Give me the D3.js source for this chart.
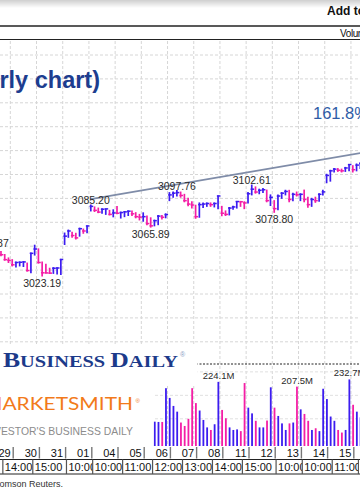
<!DOCTYPE html>
<html>
<head>
<meta charset="utf-8">
<script src="https://cdn.jsdelivr.net/npm/d3@7"></script>
<style>
html, body { margin: 0; padding: 0; background: #fff; overflow: hidden; }
svg { display: block; font-family: Arial, "Liberation Sans", sans-serif; }
</style>
</head>
<body>
<svg id="chart" width="360" height="504"></svg>
<script>
// S&P 500 hourly bars, Oct 29 - Nov 18, 7 bars a day
const days = ["29", "30", "31", "01", "04", "05", "06", "07", "08", "11", "12", "13", "14", "15", "18"];

const highs = [
    3045, 3047.87, 3047, 3046, 3044.5, 3042, 3039,
    3037.5, 3035.4, 3035.5, 3035.8, 3034.5, 3043.3, 3050.1,
    3046.9, 3035.5, 3033.5, 3030, 3030.5, 3030.5, 3037.9,
    3060.7, 3063.3, 3061.5, 3060.5, 3065, 3064.2, 3066.95,
    3085.2, 3083.5, 3082.5, 3082, 3081.5, 3080.5, 3081,
    3083.95, 3079, 3079.5, 3080, 3080, 3078.5, 3077,
    3078.34, 3075.5, 3074, 3072, 3076, 3076, 3077.5,
    3096, 3096.5, 3097.76, 3096.5, 3094.5, 3091, 3088,
    3085, 3087, 3087, 3087, 3087, 3087, 3093.09,
    3084, 3080, 3083, 3084, 3088.3, 3088.33, 3088,
    3096, 3102.61, 3101, 3099, 3099.5, 3098.2, 3094,
    3089, 3093.9, 3096, 3098.06, 3098, 3095.5, 3096.5,
    3095, 3098.2, 3092, 3091, 3092, 3095, 3098,
    3112, 3115.5, 3117, 3117, 3116.5, 3118, 3120.46,
    3119.5, 3121, 3122
];
const lows = [
    3035, 3042, 3043, 3042, 3041, 3037, 3035,
    3032, 3031, 3032, 3031.5, 3027.5, 3025.96, 3041.5,
    3034.5, 3023.19, 3025.8, 3025.5, 3025.5, 3025, 3024.5,
    3050.72, 3057, 3057, 3055.5, 3058, 3060.5, 3061,
    3080, 3079.5, 3078.5, 3078, 3077, 3076.5, 3074.87,
    3077.5, 3073.8, 3075, 3076, 3076, 3074, 3072.15,
    3071, 3068, 3065.89, 3067, 3068, 3073, 3074,
    3089, 3092, 3093, 3092, 3088, 3084.5, 3082.5,
    3073.58, 3074.5, 3083, 3084, 3084, 3083.5, 3082,
    3075.82, 3076, 3076.5, 3081.5, 3082.5, 3084, 3082,
    3087, 3094, 3095.5, 3095, 3096, 3088, 3084.73,
    3078.8, 3081, 3091, 3094, 3088, 3089, 3093,
    3089, 3088, 3083.26, 3084, 3087.5, 3088.5, 3094,
    3104.6, 3106, 3114, 3114.5, 3114, 3114.5, 3115,
    3114, 3115, 3117
];
const closes = [
    3044, 3046, 3045, 3044.5, 3041.8, 3037.5, 3036.89,
    3033, 3035, 3035.2, 3035.5, 3028, 3043, 3046.77,
    3035, 3026, 3025.9, 3025.7, 3030, 3030.2, 3037.56,
    3058, 3062.5, 3058.5, 3056.5, 3064.5, 3062.5, 3066.91,
    3084, 3080.5, 3079, 3081.5, 3081.8, 3077, 3078.27,
    3078, 3078.6, 3079.2, 3079.8, 3077.5, 3075, 3074.62,
    3075, 3069, 3067, 3071.5, 3075.5, 3074.5, 3076.78,
    3094, 3095.5, 3096, 3093.5, 3089, 3086, 3085.18,
    3075, 3085.5, 3086, 3086.5, 3085.5, 3086.5, 3093.08,
    3078, 3077, 3082.5, 3083.5, 3088.2, 3088, 3087.01,
    3095, 3099, 3096.5, 3098, 3098.5, 3089, 3091.84,
    3082, 3093, 3095.5, 3097, 3090, 3094.5, 3094.04,
    3094.5, 3090, 3085.5, 3090, 3089, 3094.5, 3096.63,
    3111, 3115, 3116.5, 3115.5, 3115, 3117.5, 3120.46,
    3116, 3120, 3121.5
];
// volume in millions
const volumes = [
    150, 95, 80, 70, 75, 90, 190,
    140, 100, 80, 75, 85, 150, 230,
    160, 130, 95, 80, 90, 110, 240,
    170, 120, 90, 75, 70, 85, 200,
    160, 115, 90, 70, 65, 80, 190,
    150, 110, 85, 70, 65, 80, 195,
    145, 110, 90, 85, 84, 84, 202,
    168, 140, 120, 82, 70, 95, 202,
    150, 124, 91, 65, 56, 76, 224.1,
    126, 97, 65, 56, 58, 52, 220,
    134, 114, 88, 65, 65, 89, 205,
    134, 105, 79, 56, 79, 82, 207.5,
    128, 112, 88, 56, 62, 52, 200,
    164, 103, 88, 56, 47, 56, 232.7,
    144, 120, 100
];

// marked highs / lows (bar index)
const priceMarks = [
    { i: 1, type: "high" }, { i: 15, type: "low" }, { i: 28, type: "high" },
    { i: 44, type: "low" }, { i: 51, type: "high" }, { i: 71, type: "high" },
    { i: 77, type: "low" }
];
const volumeMarks = [62, 83, 97];

// time row: bar index where a cell starts and its label
const timeIdx = [5, 13, 22, 29, 37, 45, 53, 61, 69, 78, 85, 93, 100];
const timeLbl = ["14:00", "15:00", "10:00", "10:00", "11:00", "12:00", "13:00", "14:00", "15:00", "10:00", "10:00", "11:00", "12:00"];

// trend line ends (bar index, price)
const trendIdx = [28, 101];
const trendPrice = [3090.4, 3131];

const upColor = "#3c1cf0";
const downColor = "#f41ea6";
const barW = 3.743;

const svg = d3.select("#chart");

const x = d3.scaleLinear().domain([0, 100]).range([-14, -14 + 100 * barW]);
const y = d3.scaleLinear().domain([3000, 3140]).range([302.6, 142.2]);
const yv = d3.scaleLinear().domain([0, 290]).range([446, 363]);

const colorOf = i => (i == 0 || closes[i] >= closes[i - 1]) ? upColor : downColor;

// top strip
const defs = svg.append("defs");
const grad = defs.append("linearGradient").attr("id", "shade").attr("x1", 0).attr("y1", 0).attr("x2", 0).attr("y2", 1);
grad.append("stop").attr("offset", "0%").attr("stop-color", "#cfcfcf");
grad.append("stop").attr("offset", "100%").attr("stop-color", "#ffffff");
svg.append("rect").attr("x", 0).attr("y", 0).attr("width", 360).attr("height", 8).attr("fill", "url(#shade)");

svg.append("text").attr("x", 327).attr("y", 15)
    .style("font-size", "12px").style("font-weight", "bold").attr("fill", "#111")
    .text("Add to");
svg.append("line").attr("x1", 0).attr("x2", 360).attr("y1", 26).attr("y2", 26)
    .attr("stroke", "#222").attr("stroke-width", 1.6);
svg.append("text").attr("x", 340).attr("y", 36.5)
    .style("font-size", "10px").attr("fill", "#111").style("letter-spacing", "-0.4px")
    .text("Volume");
svg.append("line").attr("x1", 0).attr("x2", 360).attr("y1", 39.5).attr("y2", 39.5)
    .attr("stroke", "#222").attr("stroke-width", 1.2);

// grid
const grid = svg.append("g");
const dayStarts = d3.range(1, days.length).map(k => k * 7);
grid.selectAll(".vgrid")
    .data(dayStarts)
    .enter()
    .append("line")
    .attr("class", "vgrid")
    .attr("x1", d => x(d) - barW / 2).attr("x2", d => x(d) - barW / 2)
    .attr("y1", 41).attr("y2", 446)
    .attr("stroke", "#d6d6d6").attr("stroke-dasharray", "3,2");
grid.selectAll(".hgrid")
    .data(d3.range(55, 350, 23.9))
    .enter()
    .append("line")
    .attr("class", "hgrid")
    .attr("x1", 0).attr("x2", 360)
    .attr("y1", d => d).attr("y2", d => d)
    .attr("stroke", "#d6d6d6").attr("stroke-dasharray", "3,2");
grid.selectAll(".vhgrid")
    .data([yv(95), yv(177), yv(259)])
    .enter()
    .append("line")
    .attr("class", "vhgrid")
    .attr("x1", 0).attr("x2", 360)
    .attr("y1", d => d).attr("y2", d => d)
    .attr("stroke", "#e0e0e0").attr("stroke-dasharray", "3,2");

// volume panel top
svg.append("line").attr("x1", 0).attr("x2", 360).attr("y1", 364).attr("y2", 364)
    .attr("stroke", "#222").attr("stroke-dasharray", "2,1.5").attr("stroke-width", 1);

// title
svg.append("text").attr("x", 100).attr("y", 87.5).attr("text-anchor", "end")
    .style("font-size", "23.5px").style("font-weight", "bold").attr("fill", "#1d3d8f")
    .text("S&P 500 (Hourly chart)");

// trend line
svg.append("line")
    .attr("x1", x(trendIdx[0])).attr("y1", y(trendPrice[0]))
    .attr("x2", x(trendIdx[1])).attr("y2", y(trendPrice[1]))
    .attr("stroke", "#7f8ca8").attr("stroke-width", 1.8);

svg.append("text").attr("x", 313).attr("y", 119)
    .style("font-size", "16.5px").attr("fill", "#2f5ca6")
    .text("161.8%");

// price bars
const bars = svg.append("g");
const idx = d3.range(highs.length);
bars.selectAll(".hl")
    .data(idx)
    .enter()
    .append("line")
    .attr("class", "hl")
    .attr("x1", d => x(d)).attr("x2", d => x(d))
    .attr("y1", d => y(highs[d]) - 0.5).attr("y2", d => y(lows[d]) + 0.5)
    .attr("stroke", colorOf).attr("stroke-width", 1.7);
bars.selectAll(".cl")
    .data(idx)
    .enter()
    .append("line")
    .attr("class", "cl")
    .attr("x1", d => x(d) - 1.2).attr("x2", d => x(d) + 2.4)
    .attr("y1", d => y(closes[d])).attr("y2", d => y(closes[d]))
    .attr("stroke", colorOf).attr("stroke-width", 1.5);

const fmt = d3.format(".2f");
svg.selectAll(".pmark")
    .data(priceMarks)
    .enter()
    .append("text")
    .attr("class", "pmark")
    .attr("x", d => x(d.i))
    .attr("y", d => d.type == "high" ? y(highs[d.i]) - 1 : y(lows[d.i]) + 10.5)
    .attr("text-anchor", "middle")
    .style("font-size", "10.5px").attr("fill", "#2a2a2a")
    .text(d => fmt(d.type == "high" ? highs[d.i] : lows[d.i]));

// volume bars
svg.selectAll(".vol")
    .data(idx)
    .enter()
    .append("rect")
    .attr("class", "vol")
    .attr("x", d => x(d) - 0.6)
    .attr("width", 1.8)
    .attr("y", d => yv(volumes[d]))
    .attr("height", d => yv(0) - yv(volumes[d]))
    .attr("fill", colorOf);

svg.selectAll(".vmark")
    .data(volumeMarks)
    .enter()
    .append("text")
    .attr("class", "vmark")
    .attr("x", d => x(d) + 0.5)
    .attr("y", d => yv(volumes[d]) - 3)
    .attr("text-anchor", "middle")
    .style("font-size", "9.5px").attr("fill", "#2a2a2a")
    .text(d => d3.format(".1f")(volumes[d]) + "M");

// logo block
svg.append("rect").attr("x", 0).attr("y", 344).attr("width", 153.5).attr("height", 102).attr("fill", "#fff");
svg.append("rect").attr("x", 153.5).attr("y", 344).attr("width", 44).attr("height", 40).attr("fill", "#fff");

const ibd = svg.append("text").attr("x", 3).attr("y", 367)
    .style("font-family", "'Liberation Serif', 'DejaVu Serif', serif")
    .style("font-weight", "bold")
    .attr("fill", "#1c3a8a")
    .attr("textLength", 175).attr("lengthAdjust", "spacingAndGlyphs");
ibd.append("tspan").style("font-size", "22px").text("B");
ibd.append("tspan").style("font-size", "17.5px").text("USINESS ");
ibd.append("tspan").style("font-size", "22px").text("D");
ibd.append("tspan").style("font-size", "17.5px").text("AILY");
svg.append("text").attr("x", 180).attr("y", 357).style("font-size", "7px").attr("fill", "#8a9cc4").text("®");

svg.append("text").attr("x", 133).attr("y", 410).attr("text-anchor", "end")
    .style("font-family", "Lato, 'Open Sans', sans-serif").style("font-size", "17.5px")
    .attr("fill", "#f27a1a")
    .attr("textLength", 150).attr("lengthAdjust", "spacingAndGlyphs")
    .text("MARKETSMITH");
svg.append("text").attr("x", 135.5).attr("y", 403).style("font-size", "6px").attr("fill", "#f27a1a").text("®");

svg.append("text").attr("x", 133).attr("y", 435).attr("text-anchor", "end")
    .style("font-size", "10.4px").attr("fill", "#8c8c8c")
    .text("INVESTOR'S BUSINESS DAILY");

// date row
const axis = svg.append("g");
axis.selectAll(".dsep")
    .data(dayStarts)
    .enter()
    .append("line")
    .attr("class", "dsep")
    .attr("x1", d => x(d) + 1).attr("x2", d => x(d) + 1)
    .attr("y1", 447).attr("y2", 458.5)
    .attr("stroke", "#777").attr("stroke-width", 1.4);
axis.selectAll(".dlbl")
    .data(days)
    .enter()
    .append("text")
    .attr("class", "dlbl")
    .attr("x", (d, k) => x(k * 7 + 7) - 1.5)
    .attr("y", 457)
    .attr("text-anchor", "end")
    .style("font-size", "11px").attr("fill", "#111")
    .text(d => d);

// time row
axis.append("line").attr("x1", 0).attr("x2", 360).attr("y1", 459.5).attr("y2", 459.5).attr("stroke", "#222");
axis.append("line").attr("x1", 0).attr("x2", 360).attr("y1", 474).attr("y2", 474).attr("stroke", "#222");
timeIdx.forEach((t, k) => {
    let left = x(t) - barW / 2;
    let right = k + 1 < timeIdx.length ? x(timeIdx[k + 1]) - barW / 2 : 400;
    defs.append("clipPath").attr("id", "tc" + k)
        .append("rect").attr("x", left).attr("y", 459).attr("width", right - left).attr("height", 15);
    axis.append("text")
        .attr("x", left + 2).attr("y", 471)
        .attr("clip-path", "url(#tc" + k + ")")
        .style("font-size", "11px").attr("fill", "#111")
        .text(timeLbl[k]);
});
axis.selectAll(".tsep")
    .data(timeIdx)
    .enter()
    .append("line")
    .attr("class", "tsep")
    .attr("x1", d => x(d) - barW / 2).attr("x2", d => x(d) - barW / 2)
    .attr("y1", 459.5).attr("y2", 474)
    .attr("stroke", "#555").attr("stroke-width", 1.2);

svg.append("text").attr("x", 63).attr("y", 487).attr("text-anchor", "end")
    .style("font-size", "9px").attr("fill", "#333")
    .text("Data provided by Thomson Reuters.");
</script>
</body>
</html>
